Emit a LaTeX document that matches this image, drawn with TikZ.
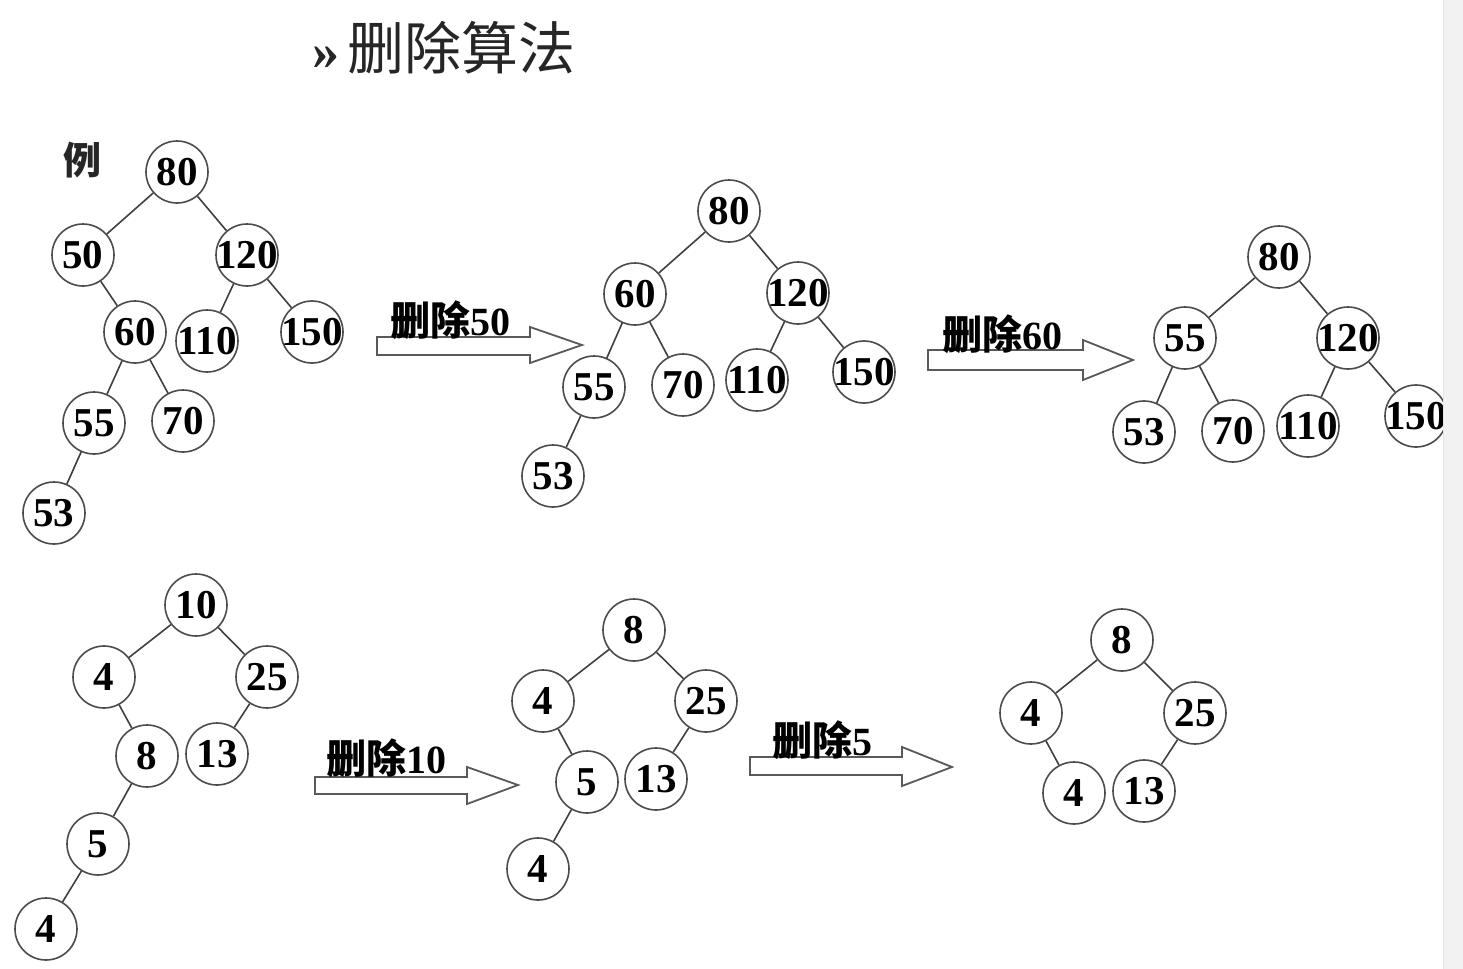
\documentclass[tikz,border=0pt]{standalone}
\usepackage{fontspec}
\setmainfont{Liberation Serif}
\newfontfamily\cjk{Noto Sans CJK SC}
\begin{document}
\begin{tikzpicture}[x=0.5pt,y=-0.5pt,
  nd/.style={circle,draw=black!70,line width=0.8pt,minimum size=31pt,inner sep=0pt,
    font=\fontsize{20.5}{20.5}\selectfont\bfseries},
  ed/.style={draw=black!75,line width=0.8pt},
  blockarrow/.style={draw=black!65,line width=0.9pt,fill=white},
  lbl/.style={anchor=base west,inner sep=0pt,font=\fontsize{20}{20}\selectfont\bfseries}]
\useasboundingbox (0,0) rectangle (1463,969);
\fill[white] (0,0) rectangle (1463,969);

% title
\node[anchor=west,inner sep=0pt,text=black!85] (title) at (312,48)
  {{\fontsize{27}{27}\selectfont\bfseries »}\hspace{4pt}{\cjk\fontsize{28.5}{28.5}\selectfont 删除算法}};
\node[inner sep=0pt,text=black!85] (li) at (82,160) {\cjk\bfseries\fontsize{19}{19}\selectfont 例};

\newcommand{\num}[1]{\makebox[0pt]{#1}}

% tree 1
\node[nd] (a80) at (177,172) {\num{80}};
\node[nd] (a50) at (83,255) {\num{50}};
\node[nd] (a120) at (247,255) {\num{120}};
\node[nd] (a60) at (135,332) {\num{60}};
\node[nd] (a110) at (207,341) {\num{110}};
\node[nd] (a150) at (312,332) {\num{150}};
\node[nd] (a55) at (94,423) {\num{55}};
\node[nd] (a70) at (183,421) {\num{70}};
\node[nd] (a53) at (54,513) {\num{53}};
\draw[ed] (a80)--(a50); \draw[ed] (a80)--(a120);
\draw[ed] (a50)--(a60); \draw[ed] (a120)--(a110); \draw[ed] (a120)--(a150);
\draw[ed] (a60)--(a55); \draw[ed] (a60)--(a70); \draw[ed] (a55)--(a53);

% arrow 1
\draw[blockarrow] (377,337) -- (530,337) -- (530,327) -- (582,345) -- (530,363) -- (530,355) -- (377,355) -- cycle;
\node[lbl] (l1) at (390,335) {{\cjk 删除}50};

% tree 2
\node[nd] (b80) at (729,211) {\num{80}};
\node[nd] (b60) at (635,294) {\num{60}};
\node[nd] (b120) at (798,293) {\num{120}};
\node[nd] (b55) at (594,387) {\num{55}};
\node[nd] (b70) at (683,385) {\num{70}};
\node[nd] (b110) at (757,380) {\num{110}};
\node[nd] (b150) at (864,372) {\num{150}};
\node[nd] (b53) at (553,476) {\num{53}};
\draw[ed] (b80)--(b60); \draw[ed] (b80)--(b120);
\draw[ed] (b60)--(b55); \draw[ed] (b60)--(b70);
\draw[ed] (b120)--(b110); \draw[ed] (b120)--(b150); \draw[ed] (b55)--(b53);

% arrow 2
\draw[blockarrow] (928,350) -- (1083,350) -- (1083,340) -- (1133,360) -- (1083,380) -- (1083,370) -- (928,370) -- cycle;
\node[lbl] (l2) at (942,349) {{\cjk 删除}60};

% tree 3
\node[nd] (c80) at (1279,257) {\num{80}};
\node[nd] (c55) at (1185,338) {\num{55}};
\node[nd] (c120) at (1348,338) {\num{120}};
\node[nd] (c53) at (1144,432) {\num{53}};
\node[nd] (c70) at (1233,431) {\num{70}};
\node[nd] (c110) at (1308,426) {\num{110}};
\node[nd] (c150) at (1416,416) {\num{150}};
\draw[ed] (c80)--(c55); \draw[ed] (c80)--(c120);
\draw[ed] (c55)--(c53); \draw[ed] (c55)--(c70);
\draw[ed] (c120)--(c110); \draw[ed] (c120)--(c150);

% tree 4
\node[nd] (d10) at (196,605) {\num{10}};
\node[nd] (d4) at (104,677) {\num{4}};
\node[nd] (d25) at (267,677) {\num{25}};
\node[nd] (d8) at (147,756) {\num{8}};
\node[nd] (d13) at (217,754) {\num{13}};
\node[nd] (d5) at (98,844) {\num{5}};
\node[nd] (d4b) at (46,929) {\num{4}};
\draw[ed] (d10)--(d4); \draw[ed] (d10)--(d25);
\draw[ed] (d4)--(d8); \draw[ed] (d25)--(d13);
\draw[ed] (d8)--(d5); \draw[ed] (d5)--(d4b);

% arrow 3
\draw[blockarrow] (315,777) -- (467,777) -- (467,767) -- (518,785) -- (467,804) -- (467,794) -- (315,794) -- cycle;
\node[lbl] (l3) at (326,773) {{\cjk 删除}10};

% tree 5
\node[nd] (e8) at (634,630) {\num{8}};
\node[nd] (e4) at (543,701) {\num{4}};
\node[nd] (e25) at (706,701) {\num{25}};
\node[nd] (e5) at (587,782) {\num{5}};
\node[nd] (e13) at (656,779) {\num{13}};
\node[nd] (e4b) at (538,869) {\num{4}};
\draw[ed] (e8)--(e4); \draw[ed] (e8)--(e25);
\draw[ed] (e4)--(e5); \draw[ed] (e25)--(e13); \draw[ed] (e5)--(e4b);

% arrow 4
\draw[blockarrow] (750,757) -- (902,757) -- (902,747) -- (952,767) -- (902,786) -- (902,775) -- (750,775) -- cycle;
\node[lbl] (l4) at (772,755) {{\cjk 删除}5};

% tree 6
\node[nd] (f8) at (1122,640) {\num{8}};
\node[nd] (f4) at (1031,713) {\num{4}};
\node[nd] (f25) at (1195,713) {\num{25}};
\node[nd] (f4b) at (1074,793) {\num{4}};
\node[nd] (f13) at (1144,791) {\num{13}};
\draw[ed] (f8)--(f4); \draw[ed] (f8)--(f25);
\draw[ed] (f4)--(f4b); \draw[ed] (f25)--(f13);

% right gray strip
\fill[black!5] (1443,0) rectangle (1463,969);
\draw[black!10,line width=0.5pt] (1443,0) -- (1443,969);
\end{tikzpicture}
\end{document}
